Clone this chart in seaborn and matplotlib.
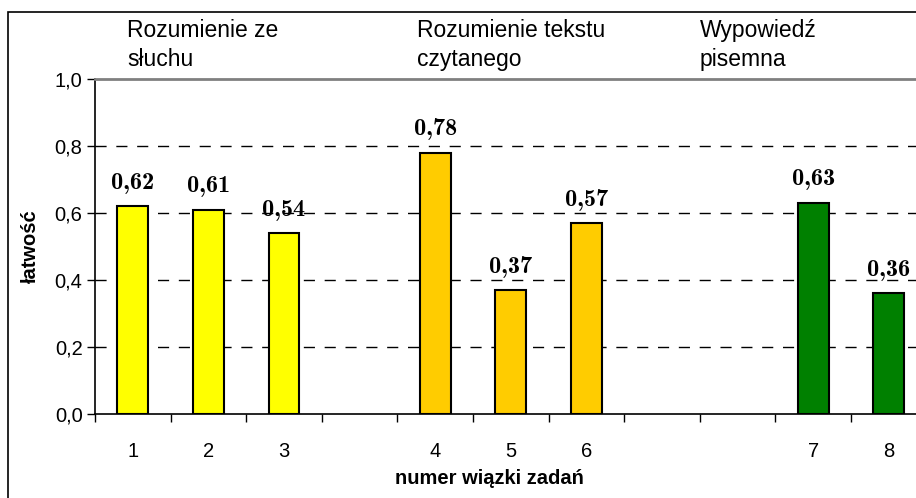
import os
import numpy as np
import pandas as pd
import seaborn as sns
import matplotlib
matplotlib.use("Agg")
from matplotlib import pyplot as plt
from matplotlib.patches import Rectangle
from matplotlib.ticker import FuncFormatter
from matplotlib.font_manager import FontProperties
import matplotlib.transforms as mtransforms

# data
bundles = ["1", "2", "3", "4", "5", "6", "7", "8"]
ease = [0.62, 0.61, 0.54, 0.78, 0.37, 0.57, 0.63, 0.36]
groups = ["sluch", "sluch", "sluch", "czyt", "czyt", "czyt", "pis", "pis"]
# empty slots between the groups
slot_order = ["1", "2", "3", "_a", "4", "5", "6", "_b", "_c", "7", "8"]
group_titles = ["Rozumienie ze\nsłuchu", "Rozumienie tekstu\nczytanego", "Wypowiedź\npisemna"]
group_colors = {"sluch": "#FFFF00", "czyt": "#FFCC00", "pis": "#008000"}

df = pd.DataFrame({"nr": bundles, "ease": ease, "group": groups})

sns.set_style("white")
plt.rcParams["font.family"] = ["Liberation Sans", "DejaVu Sans"]
plt.rcParams["text.color"] = "black"
plt.rcParams["xtick.color"] = "black"
plt.rcParams["ytick.color"] = "black"

# bold Computer Modern shipped with matplotlib, for the value labels
cmb = os.path.join(matplotlib.get_data_path(), "fonts", "ttf", "cmb10.ttf")
val_font = FontProperties(fname=cmb, size=17.5) if os.path.exists(cmb) else FontProperties(family="DejaVu Serif", weight="bold", size=15)

W, H = 916, 498
fig = plt.figure(figsize=(W / 100, H / 100), dpi=100)
# axes run past the right edge, as in the cropped original
ax = fig.add_axes([95 / W, (H - 414) / H, 831.6 / W, 335 / H])

sns.barplot(data=df, x="nr", y="ease", hue="group", order=slot_order,
            palette=group_colors, dodge=False, width=0.41, legend=False, saturation=1,
            edgecolor="black", linewidth=1.5, ax=ax, zorder=3)

ax.set_xlim(-0.5, len(slot_order) - 0.5)
ax.set_ylim(0, 1.0)
ax.set_yticks(np.arange(0, 1.01, 0.2))
ax.yaxis.set_major_formatter(FuncFormatter(lambda v, p: f"{v:.1f}".replace(".", ",")))

for y in [0.2, 0.4, 0.6, 0.8]:
    ax.axhline(y, color="black", lw=1, ls=(0, (8, 7)), zorder=1)

# ticks at slot boundaries, labels at slot centres
ax.set_xticks(np.arange(-0.5, len(slot_order), 1))
ax.set_xticklabels([])
ax.set_xticks(np.arange(len(slot_order)), minor=True)
ax.set_xticklabels([s if not s.startswith("_") else "" for s in slot_order],
                   minor=True, fontsize=14.5)
shift = mtransforms.ScaledTranslation(-10 / 100, 0, fig.dpi_scale_trans)
for lab in ax.get_xticklabels(minor=True):
    lab.set_transform(lab.get_transform() + shift)
ax.tick_params(axis="x", which="major", direction="out", length=6, width=1, color="black", bottom=True)
ax.tick_params(axis="x", which="minor", length=0, pad=20, labelcolor="black")
ax.tick_params(axis="y", direction="out", length=6, width=1, color="black", left=True,
               labelsize=14.5, pad=3, labelcolor="black")

ax.set_xlabel("")
ax.set_ylabel("")

for side in ["left", "bottom"]:
    ax.spines[side].set_color("black")
    ax.spines[side].set_linewidth(1.2)
ax.spines["top"].set_visible(True)
ax.spines["top"].set_color("#808080")
ax.spines["top"].set_linewidth(2)
ax.spines["right"].set_visible(False)

# value labels
for cont in ax.containers:
    vals = [b.get_height() for b in cont]
    ax.bar_label(cont, labels=[f"{v:.2f}".replace(".", ",") for v in vals],
                 padding=9, fontproperties=val_font, color="black")

fig.text(30 / W, (H - 246) / H, "łatwość", rotation=90, ha="center", va="center",
         fontsize=14.5, fontweight="bold")
fig.text(489 / W, (H - 478) / H, "numer wiązki zadań", ha="center", va="center",
         fontsize=14.5, fontweight="bold")

for xpx, txt in zip([127, 417, 700], group_titles):
    fig.text(xpx / W, (H - 19) / H, txt, ha="left", va="top", fontsize=16.5, linespacing=1.35)

# chart frame (cropped on the right and bottom)
fig.patches.append(Rectangle((8 / W, -0.1), 1.2, (H - 12) / H + 0.1, transform=fig.transFigure,
                             fill=False, edgecolor="black", lw=1.2))

fig.savefig("out.png", dpi=100)
